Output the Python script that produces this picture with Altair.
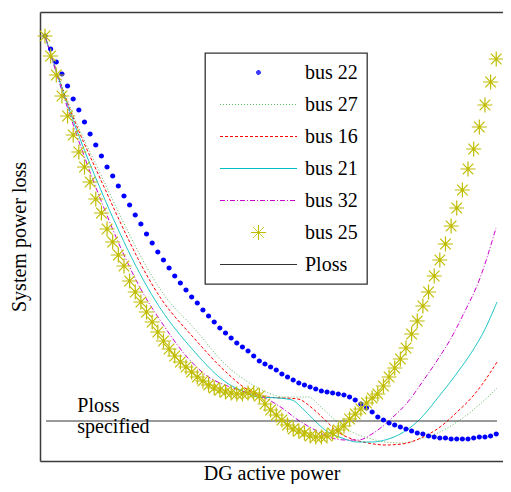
import altair as alt
import pandas as pd

# ---------------- data (x = DG active power step, y = system power loss, arbitrary units)
series_names = ["bus 22", "bus 27", "bus 16", "bus 21", "bus 32", "bus 25", "Ploss"]
series_colors = ["#0000ff", "#5cb85c", "#ff0000", "#00bfbf", "#cc00cc", "#c0bc00", "#333333"]
series_dashes = [[1, 0], [1, 2], [3, 2], [1, 0], [5, 2, 1, 2], [1, 0], [1, 0]]

DOT = ("M0.2,0A0.2,0.2 0 1,1 -0.2,0A0.2,0.2 0 1,1 0.2,0Z"
       "M0.13,0A0.13,0.13 0 1,1 -0.13,0A0.13,0.13 0 1,1 0.13,0Z"
       "M0.06,0A0.06,0.06 0 1,1 -0.06,0A0.06,0.06 0 1,1 0.06,0Z")
STAR = "M-0.75,0L0.75,0M0,-0.75L0,0.75M-0.53,-0.53L0.53,0.53M-0.53,0.53L0.53,-0.53"
LINE = "M-3.85,0L3.85,0"
series_shapes = [DOT, LINE, LINE, LINE, LINE, STAR, LINE]

power_steps = list(range(81))

bus22_loss = [425, 412, 399, 387, 375, 362, 351, 339, 327, 316,
              305, 294, 285, 275, 265, 256, 246, 237, 227, 218,
              209, 201, 193, 185, 178, 171, 164, 158, 151, 145,
              139, 133, 128, 123, 118, 114, 110, 105, 100, 97,
              94, 91, 87, 84, 81, 78, 76, 74, 72, 70,
              69, 68, 67, 66, 64, 61, 57, 53, 49, 44,
              41, 38, 36, 34, 32, 30, 28, 27, 25, 24,
              23, 23, 22, 22, 22, 22, 23, 24, 24, 25, 27]

bus25_loss = [425, 405, 386, 365, 345, 326, 309, 294, 279, 262,
              248, 232, 219, 206, 195, 180, 169, 159, 149, 139,
              129, 120, 112, 105, 99, 94, 89, 84, 80, 76,
              73, 71, 69, 68, 67, 67, 68, 68, 65, 57,
              51, 46, 41, 36, 32, 30, 28, 25, 24, 24,
              25, 28, 31, 35, 42, 47, 52, 58, 63, 67,
              75, 84, 93, 102, 113, 127, 140, 155, 169, 185,
              201, 217, 235, 253, 271, 292, 312, 334, 356, 379, 402]

bus27_x = [0, 4.0, 9.75, 21.81, 26.24, 32.27, 35.46, 37.77, 42.55, 46.63, 49.11, 51.42,
           54.43, 57.27, 60.28, 63.3, 67.02, 70.04, 73.05, 75.89, 78.9, 80.14]
bus27_loss = [425, 360, 288, 161, 134, 95, 81, 73, 64, 64, 53, 41,
              29, 23, 19, 18, 23, 29, 39, 51, 66, 73]

bus16_x = [0, 4.0, 9.75, 20.74, 26.24, 32.27, 35.46, 39.54, 44.86, 47.34, 49.65, 51.95,
           54.43, 57.27, 60.28, 63.3, 67.02, 70.04, 73.05, 75.89, 78.9, 80.14]
bus16_loss = [425, 358, 283, 161, 124, 88, 73, 64, 62, 53, 41, 29,
              22, 18, 16, 17, 24, 34, 49, 65, 88, 99]

bus21_x = [0, 4.0, 9.75, 19.5, 26.24, 32.27, 35.46, 37.77, 41.31, 43.79, 45.57, 47.34,
           49.65, 52.66, 55.5, 57.98, 60.28, 63.3, 66.13, 70.04, 73.05, 75.89, 77.66, 80.14]
bus21_loss = [425, 356, 273, 161, 111, 78, 69, 64, 63, 61, 53, 43,
              31, 23, 19, 19, 21, 28, 40, 66, 88, 111, 128, 159]

bus32_x = [0, 4.0, 9.75, 18.09, 20.39, 25.18, 29.26, 31.91, 35.46, 39.01, 42.02, 44.86,
           47.87, 50.89, 53.19, 55.5, 58.51, 61.52, 64.18, 67.02, 70.04, 71.81, 74.11, 77.13, 79.96]
bus32_loss = [425, 353, 263, 161, 141, 104, 83, 76, 69, 63, 53, 41,
              31, 23, 21, 21, 29, 43, 58, 80, 105, 121, 146, 183, 233]

ploss_x = [0.18, 80.14]
ploss_loss = [40, 40]

note_x = [5.73, 5.73]
note_loss = [49, 28]
note_text = ["Ploss", "specified"]

# ---------------- tables
line_rows = []
for name, xs, ys in [("bus 27", bus27_x, bus27_loss), ("bus 16", bus16_x, bus16_loss),
                     ("bus 21", bus21_x, bus21_loss), ("bus 32", bus32_x, bus32_loss),
                     ("Ploss", ploss_x, ploss_loss)]:
    for xv, yv in zip(xs, ys):
        line_rows.append({"x": xv, "y": yv, "series": name})
line_df = pd.DataFrame(line_rows)

point_rows = []
for name, ys in [("bus 22", bus22_loss), ("bus 25", bus25_loss)]:
    for xv, yv in zip(power_steps, ys):
        point_rows.append({"x": xv, "y": yv, "series": name})
point_df = pd.DataFrame(point_rows)

note_df = pd.DataFrame({"x": note_x, "y": note_loss, "text": note_text})

# ---------------- encodings
FRAME = "#3a3a3a"
x_scale = alt.Scale(domain=[-0.887, 81.2], nice=False, zero=False)
y_scale = alt.Scale(domain=[0, 449], nice=False, zero=False)

x_bottom = alt.X("x:Q", scale=x_scale,
                 axis=alt.Axis(title="DG active power", labels=False, ticks=False, domain=True,
                               domainColor=FRAME, domainWidth=1.5, grid=False, titlePadding=2))
x_top = alt.X("x:Q", scale=x_scale,
              axis=alt.Axis(orient="top", title=None, labels=False, ticks=False, domain=True,
                            domainColor=FRAME, domainWidth=1.5, grid=False))
x_plain = alt.X("x:Q", scale=x_scale, axis=None)
y_enc = alt.Y("y:Q", scale=y_scale,
              axis=alt.Axis(title="System power loss", labels=False, ticks=False, domain=True,
                            domainColor=FRAME, domainWidth=1.5, grid=False, titlePadding=11))
color_enc = alt.Color("series:N", scale=alt.Scale(domain=series_names, range=series_colors), title=None)
dash_enc = alt.StrokeDash("series:N", scale=alt.Scale(domain=series_names, range=series_dashes), title=None)
shape_enc = alt.Shape("series:N", scale=alt.Scale(domain=series_names, range=series_shapes), title=None)

lines = alt.Chart(line_df).mark_line(strokeWidth=1, opacity=1, interpolate="monotone").encode(
    x=x_bottom, y=y_enc, color=color_enc, strokeDash=dash_enc)

points = alt.Chart(point_df).mark_point(filled=False, size=400, strokeWidth=1.2, opacity=1).encode(
    x=x_plain, y=y_enc, color=color_enc, shape=shape_enc)

notes = alt.Chart(note_df).mark_text(align="left", baseline="alphabetic", font="Liberation Serif",
                                     fontSize=20, color="black").encode(
    x=x_top, y=y_enc, text="text:N")

chart = alt.layer(lines, points, notes).resolve_axis(x="independent").properties(
    width=463, height=449,
    autosize=alt.AutoSizeParams(type="none"),
    padding={"left": 32, "top": 4, "right": 0, "bottom": 23},
    background="white",
).configure_view(
    stroke=None
).configure_axis(
    titleFont="Liberation Serif", titleFontSize=20, titleFontWeight="normal", titleColor="black"
).configure_legend(
    orient="none", legendX=165, legendY=41, padding=9, rowPadding=11,
    symbolOffset=34, labelOffset=36, labelFont="Liberation Serif", labelFontSize=20,
    labelColor="black", strokeColor="#333333", strokeWidth=1.3, fillColor="white",
    symbolSize=400, symbolStrokeWidth=1, labelLimit=300
)

chart.save("out.html", embed_options={"renderer": "svg", "actions": False})
